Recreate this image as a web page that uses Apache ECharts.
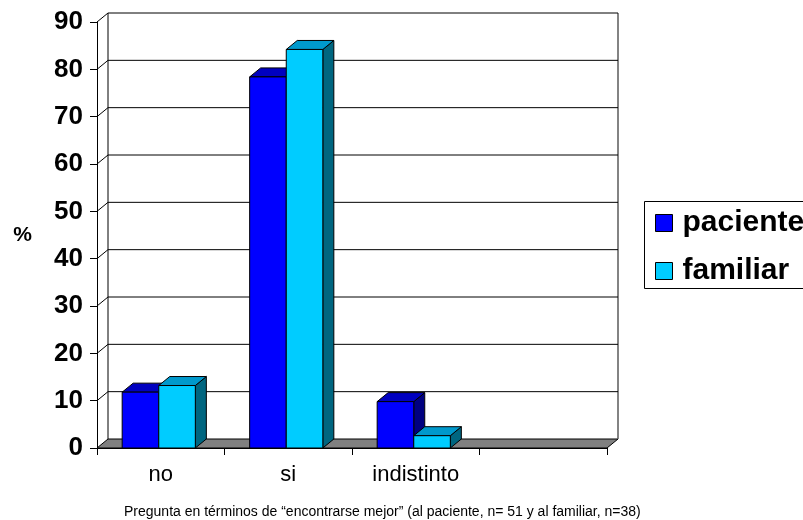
<!DOCTYPE html>
<html>
<head>
<meta charset="utf-8">
<script src="https://cdn.jsdelivr.net/npm/echarts@6/dist/echarts.min.js"></script>
<style>
  html, body { margin: 0; padding: 0; background: #fff; }
  #chart { width: 803px; height: 520px; }
</style>
</head>
<body>
<div id="chart"></div>
<script>
// Chart data
const categories = ['no', 'si', 'indistinto', ''];
const seriesNames = ['paciente', 'familiar'];
const pacienteValues = [11.8, 78.4, 9.8, null];
const familiarValues = [13.2, 84.2, 2.6, null];
const yTicks = [0, 10, 20, 30, 40, 50, 60, 70, 80, 90];
const caption = 'Pregunta en términos de “encontrarse mejor” (al paciente, n= 51 y al familiar, n=38)';

// Drawing styles
const FONT = '"Liberation Sans", Arial, Helvetica, sans-serif';
const DEPTH_X = 11;   // horizontal depth offset of the 3D box
const DEPTH_Y = 9;    // vertical depth offset of the 3D box
const BAR_RATIO = 0.287;
const BAR_SHIFT = -2;
const palettes = [
  { front: '#0000FF', top: '#0000C0', side: '#000080' },
  { front: '#00CCFF', top: '#0099CC', side: '#006680' }
];

// Back wall, left wall edges and floor, one item per axis tick
function renderWall(params, api) {
  const cs = params.coordSys;
  const v = api.value(1);
  const y = api.coord([0, v])[1];
  const x0 = cs.x, x1 = cs.x + cs.width;
  const children = [];
  if (v === yTicks[0]) {
    const yTop = api.coord([0, yTicks[yTicks.length - 1]])[1];
    children.push({
      type: 'polygon',
      shape: { points: [[x0, y], [x1, y], [x1 + DEPTH_X, y - DEPTH_Y], [x0 + DEPTH_X, y - DEPTH_Y]] },
      style: { fill: '#808080', stroke: '#000', lineWidth: 1 }
    });
    children.push({
      type: 'line',
      shape: { x1: x0 + DEPTH_X, y1: y - DEPTH_Y, x2: x0 + DEPTH_X, y2: yTop - DEPTH_Y },
      style: { stroke: '#000', lineWidth: 1 }
    });
    children.push({
      type: 'line',
      shape: { x1: x1 + DEPTH_X, y1: y - DEPTH_Y, x2: x1 + DEPTH_X, y2: yTop - DEPTH_Y },
      style: { stroke: '#5a5a5a', lineWidth: 1.5 }
    });
  } else {
    children.push({
      type: 'polyline',
      shape: { points: [[x0, y], [x0 + DEPTH_X, y - DEPTH_Y], [x1 + DEPTH_X, y - DEPTH_Y]] },
      style: { stroke: '#000', lineWidth: 1, fill: null }
    });
  }
  return { type: 'group', children: children };
}

// 3D column: front face, top face and right side face
function makeBarRenderer(seriesIndex) {
  const pal = palettes[seriesIndex];
  return function (params, api) {
    const idx = api.value(0);
    const val = api.value(1);
    if (val == null || isNaN(val)) return null;
    const base = api.coord([idx, 0]);
    const tip = api.coord([idx, val]);
    const band = api.size([1, 0])[0];
    const w = band * BAR_RATIO;
    const x0 = base[0] + BAR_SHIFT + (seriesIndex - 1) * w;
    const x1 = x0 + w;
    const yb = base[1], yt = tip[1];
    return {
      type: 'group',
      children: [
        {
          type: 'polygon',
          shape: { points: [[x1, yt], [x1 + DEPTH_X, yt - DEPTH_Y], [x1 + DEPTH_X, yb - DEPTH_Y], [x1, yb]] },
          style: { fill: pal.side, stroke: '#000', lineWidth: 1 }
        },
        {
          type: 'polygon',
          shape: { points: [[x0, yt], [x1, yt], [x1 + DEPTH_X, yt - DEPTH_Y], [x0 + DEPTH_X, yt - DEPTH_Y]] },
          style: { fill: pal.top, stroke: '#000', lineWidth: 1 }
        },
        {
          type: 'rect',
          shape: { x: x0, y: yt, width: w, height: yb - yt },
          style: { fill: pal.front, stroke: '#000', lineWidth: 1 }
        }
      ]
    };
  };
}

const valueSets = [pacienteValues, familiarValues];

const chart = echarts.init(document.getElementById('chart'), null, { renderer: 'canvas' });
chart.setOption({
  animation: false,
  backgroundColor: '#fff',
  title: {
    text: caption,
    left: 119,
    top: 500,
    textStyle: { fontFamily: FONT, fontSize: 14, fontWeight: 'normal', color: '#000' }
  },
  // legend frame runs past the right edge of the canvas
  graphic: [{
    type: 'rect',
    z: 0,
    shape: { x: 644.5, y: 201.5, width: 200, height: 87 },
    style: { fill: '#fff', stroke: '#000', lineWidth: 1 }
  }],
  legend: {
    orient: 'vertical',
    left: 644,
    top: 201,
    data: seriesNames,
    icon: 'rect',
    itemWidth: 17,
    itemHeight: 17,
    itemGap: 18,
    borderWidth: 0,
    padding: [7, 0, 3, 11],
    itemStyle: { borderColor: '#000', borderWidth: 1 },
    textStyle: {
      fontFamily: FONT, fontSize: 30, fontWeight: 'bold', color: '#000',
      lineHeight: 30, padding: [0, 0, 0, 5]
    }
  },
  grid: { left: 97, top: 22, width: 510, height: 426, containLabel: false },
  xAxis: {
    type: 'category',
    data: categories,
    axisLine: { show: true, lineStyle: { color: '#000', width: 1 } },
    axisTick: { show: true, length: 7, lineStyle: { color: '#000' } },
    axisLabel: { fontFamily: FONT, fontSize: 22, color: '#000', margin: 16 },
    splitLine: { show: false }
  },
  yAxis: {
    type: 'value',
    min: 0,
    max: 90,
    interval: 10,
    name: '%',
    nameLocation: 'middle',
    nameRotate: 0,
    nameGap: 65,
    nameTextStyle: { fontFamily: FONT, fontSize: 21, fontWeight: 'bold', color: '#000', padding: [0, 0, 6, 0] },
    axisLine: { show: true, lineStyle: { color: '#000', width: 1 } },
    axisTick: { show: true, length: 7, lineStyle: { color: '#000' } },
    axisLabel: { fontFamily: FONT, fontSize: 26, fontWeight: 'bold', color: '#000', margin: 14 },
    splitLine: { show: false }
  },
  series: [
    {
      name: 'wall',
      type: 'custom',
      z: 1,
      silent: true,
      renderItem: renderWall,
      encode: { x: 0, y: 1 },
      data: yTicks.map(function (v) { return [0, v]; })
    }
  ].concat(seriesNames.map(function (name, si) {
    return {
      name: name,
      type: 'custom',
      z: 2 + si,
      itemStyle: { color: palettes[si].front },
      renderItem: makeBarRenderer(si),
      encode: { x: 0, y: 1 },
      data: categories.map(function (c, i) { return [i, valueSets[si][i]]; })
    };
  }))
});
</script>
</body>
</html>
